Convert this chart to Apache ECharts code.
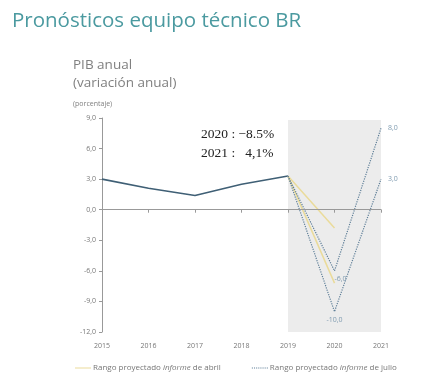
<!DOCTYPE html>
<html><head><meta charset="utf-8">
<script src="https://cdn.jsdelivr.net/npm/echarts@6/dist/echarts.min.js"></script>
<style>html,body{margin:0;padding:0;background:#fff}#c{width:428px;height:391px}</style>
</head><body><div id="c"></div>
<script>
const years = ['2015','2016','2017','2018','2019','2020','2021'];
const pibHistorico = [3.0, 2.1, 1.4, 2.5, 3.3, null, null];
const abrilAlto = [null, null, null, null, 3.3, -1.8, null];
const abrilBajo = [null, null, null, null, 3.3, -7.2, null];
const julioAlto = [null, null, null, null, 3.3, -6.0, 8.0];
const julioBajo = [null, null, null, null, 3.3, -10.0, 3.0];
const yTicks = [-12, -9, -6, -3, 0, 3, 6, 9];

const fmt = v => (v < 0 ? '-' : '') + Math.abs(v).toFixed(1).replace('.', ',');
const chart = echarts.init(document.getElementById('c'));
const julioStyle = {color: '#5f7f98', width: 1.2, type: [1.2, 1.2]};
const abrilStyle = {color: '#eadb9a', width: 1.5};
const lbl = (pos, off) => ({show: true, position: pos, offset: off || [0, 0], fontSize: 7, color: '#7f9bb0', fontFamily: 'Open Sans'});
// label only the last points (positions by index)
const withLabels = (arr, pos) => arr.map((v, i) => pos[i] ? {value: v, label: pos[i]} : v);

chart.setOption({
  animation: false,
  textStyle: {fontFamily: 'Open Sans'},
  title: [
    {text: 'Pronósticos equipo técnico BR', left: 7, top: 6, textStyle: {fontSize: 20.5, fontWeight: 'normal', color: '#4b9aa0', fontFamily: 'Open Sans'}},
    {text: 'PIB anual\n(variación anual)', left: 68, top: 51, textStyle: {fontSize: 13.5, fontWeight: 'normal', color: '#808080', lineHeight: 18, fontFamily: 'Open Sans'}},
    {text: '(porcentaje)', left: 68, top: 95, textStyle: {fontSize: 7, fontWeight: 'normal', color: '#808080', fontFamily: 'Open Sans'}},
    {text: '2020 : −8.5%\n2021 :   4,1%', left: 196, top: 120, textStyle: {fontSize: 13.5, fontWeight: 'normal', color: '#222', lineHeight: 19, fontFamily: 'Liberation Serif'}}
  ],
  grid: {left: 102, right: 47, top: 118, bottom: 59},
  legend: {
    bottom: 14, left: 70, itemGap: 31, itemWidth: 16, itemHeight: 6,
    data: [
      {name: 'abril', icon: 'path://M0 0h16v1h-16z'},
      {name: 'julio', icon: 'path://M0 0h1v1h-1zM2 0h1v1h-1zM4 0h1v1h-1zM6 0h1v1h-1zM8 0h1v1h-1zM10 0h1v1h-1zM12 0h1v1h-1zM14 0h1v1h-1z'}
    ],
    textStyle: {fontSize: 8, color: '#777', padding: [0, 0, 0, -3], rich: {i: {fontStyle: 'italic', fontSize: 8, color: '#777'}}},
    formatter: n => 'Rango proyectado {i|informe} de ' + n
  },
  xAxis: [
    {type: 'category', data: years, boundaryGap: false, position: 'bottom',
     axisLine: {show: false, onZero: false}, axisTick: {show: false},
     axisLabel: {fontSize: 7, color: '#777', margin: 10}},
    {type: 'category', data: years, boundaryGap: false, z: 5,
     axisLine: {show: true, onZero: true, lineStyle: {color: '#999'}},
     axisTick: {show: true, inside: true, length: 3, lineStyle: {color: '#999'}},
     axisLabel: {show: false}}
  ],
  yAxis: {
    type: 'value', min: -12, max: 9, interval: 3,
    axisLine: {show: true, lineStyle: {color: '#999'}},
    axisTick: {show: true, length: 3, lineStyle: {color: '#999'}},
    splitLine: {show: false},
    axisLabel: {fontSize: 7, color: '#777', formatter: fmt, margin: 6}
  },
  series: [
    {name: 'sombra', type: 'line', data: [], z: -1, silent: true,
     markArea: {silent: true, itemStyle: {color: '#ececec'}, data: [[{xAxis: '2019', yAxis: 8.8}, {xAxis: '2021', yAxis: -12}]]}},
    {name: 'hist', type: 'line', data: pibHistorico, symbol: 'none', lineStyle: {color: '#3f5f75', width: 1.6}},
    {name: 'abril', type: 'line', data: abrilAlto, symbol: 'none', lineStyle: abrilStyle, itemStyle: {color: '#eadb9a'}},
    {name: 'abril', type: 'line', data: abrilBajo, symbol: 'none', lineStyle: abrilStyle, itemStyle: {color: '#eadb9a'}},
    {name: 'julio', type: 'line', symbol: 'circle', symbolSize: 0.1, showSymbol: true, lineStyle: julioStyle, itemStyle: {color: '#5f7f98'},
     label: {formatter: p => fmt(p.value)},
     data: withLabels(julioAlto, {5: lbl('bottom', [6, 0]), 6: lbl('right', [2, 0])})},
    {name: 'julio', type: 'line', symbol: 'circle', symbolSize: 0.1, showSymbol: true, lineStyle: julioStyle, itemStyle: {color: '#5f7f98'},
     label: {formatter: p => fmt(p.value)},
     data: withLabels(julioBajo, {5: lbl('bottom', [0, 0]), 6: lbl('right', [2, 0])})}
  ]
});
</script></body></html>
